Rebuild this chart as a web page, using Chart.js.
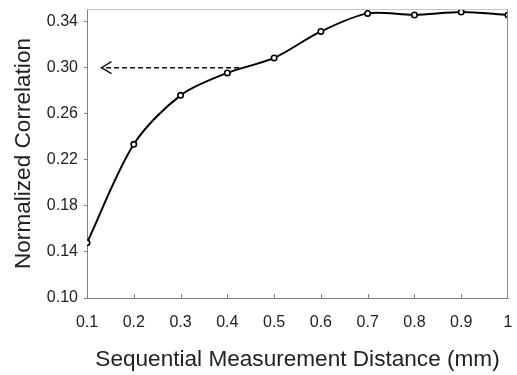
<!DOCTYPE html>
<html>
<head>
<meta charset="utf-8">
<script src="https://cdn.jsdelivr.net/npm/chart.js@4.4.1/dist/chart.umd.min.js"></script>
<style>
  html, body { margin: 0; padding: 0; background: #fff; }
  #wrap { width: 517px; height: 375px; }
</style>
</head>
<body>
<div id="wrap"><canvas id="myChart" width="517" height="375"></canvas></div>
<script>
const distances = [0.1, 0.2, 0.3, 0.4, 0.5, 0.6, 0.7, 0.8, 0.9, 1.0];
const correlation = [0.148, 0.2335, 0.276, 0.2955, 0.3085, 0.3315, 0.3472, 0.3458, 0.3484, 0.3458];

const xTicks = [0.1, 0.2, 0.3, 0.4, 0.5, 0.6, 0.7, 0.8, 0.9, 1.0];
const xTickLabels = ['0.1', '0.2', '0.3', '0.4', '0.5', '0.6', '0.7', '0.8', '0.9', '1'];
const yTicks = [0.10, 0.14, 0.18, 0.22, 0.26, 0.30, 0.34];
const yTickLabels = ['0.10', '0.14', '0.18', '0.22', '0.26', '0.30', '0.34'];

// dashed arrow pointing to the y axis at 0.30
const arrowX = [0.425, 0.131];
const arrowY = [0.30, 0.30];

const FONT = 'Liberation Sans, Arial, sans-serif';
const TEXT = '#222';

const frame = {
  id: 'frame',
  afterDatasetsDraw(chart) {
    const ctx = chart.ctx;
    const a = chart.chartArea;
    const x = chart.scales.x, y = chart.scales.y;
    ctx.save();
    // top and right border
    ctx.lineWidth = 1;
    ctx.strokeStyle = '#c4c4c4';
    ctx.beginPath();
    ctx.moveTo(a.left, a.top + 0.5);
    ctx.lineTo(a.right, a.top + 0.5);
    ctx.stroke();
    ctx.strokeStyle = '#8c8c8c';
    ctx.beginPath();
    ctx.moveTo(a.right - 0.5, a.top);
    ctx.lineTo(a.right - 0.5, a.bottom);
    ctx.stroke();
    // inside tick marks on the x axis
    ctx.strokeStyle = '#808080';
    xTicks.slice(1, -1).forEach(v => {
      const px = Math.round(x.getPixelForValue(v)) + 0.5;
      ctx.beginPath();
      ctx.moveTo(px, a.bottom);
      ctx.lineTo(px, a.bottom - 4);
      ctx.stroke();
    });
    // arrowhead
    const tx = x.getPixelForValue(arrowX[1]);
    const ty = y.getPixelForValue(arrowY[1]);
    ctx.strokeStyle = '#111';
    ctx.lineWidth = 1.4;
    ctx.beginPath();
    ctx.moveTo(tx + 10, ty - 6);
    ctx.lineTo(tx, ty);
    ctx.lineTo(tx + 10, ty + 6);
    ctx.stroke();
    ctx.restore();
  }
};

const ctx = document.getElementById('myChart').getContext('2d');
const myChart = new Chart(ctx, {
  type: 'line',
  data: {
    datasets: [{
      label: 'Normalized Correlation',
      data: distances.map((d, i) => ({ x: d, y: correlation[i] })),
      borderColor: '#000',
      borderWidth: 2,
      tension: 0.3,
      pointRadius: 2.7,
      pointBorderWidth: 1.6,
      pointBorderColor: '#000',
      pointBackgroundColor: '#fff',
      order: 1
    },
    {
      label: 'arrow',
      data: arrowX.map((d, i) => ({ x: d, y: arrowY[i] })),
      borderColor: '#111',
      borderWidth: 1.4,
      borderDash: [5, 3],
      pointRadius: 0,
      tension: 0,
      order: 2
    }]
  },
  options: {
    responsive: false,
    animation: false,
    layout: { padding: { top: 9, right: 9, left: 0, bottom: 0 } },
    plugins: {
      legend: { display: false },
      tooltip: { enabled: false }
    },
    scales: {
      x: {
        type: 'linear',
        min: 0.1,
        max: 1.0,
        afterFit(scale) {
          scale.height = 77;
          scale.paddingLeft = 0;
          scale.paddingRight = 0;
        },
        afterBuildTicks(scale) { scale.ticks = xTicks.map(v => ({ value: v })); },
        grid: { display: true, drawOnChartArea: false, drawTicks: false },
        border: { color: '#808080', width: 1 },
        ticks: {
          padding: 15,
          color: TEXT,
          font: { family: FONT, size: 16 },
          maxRotation: 0,
          callback: (v) => xTickLabels[xTicks.findIndex(t => Math.abs(t - v) < 1e-6)]
        },
        title: {
          display: true,
          text: 'Sequential Measurement Distance (mm)',
          color: TEXT,
          font: { family: FONT, size: 22.6 },
          padding: { top: 10, bottom: 2 }
        }
      },
      y: {
        min: 0.10,
        max: 0.351,
        afterFit(scale) {
          scale.width = 87;
          scale.paddingTop = 0;
          scale.paddingBottom = 0;
        },
        afterBuildTicks(scale) { scale.ticks = yTicks.map(v => ({ value: v })); },
        grid: { display: true, drawOnChartArea: false, drawTicks: true, tickLength: 3, color: '#808080' },
        border: { color: '#808080', width: 1 },
        ticks: {
          padding: 6,
          color: TEXT,
          font: { family: FONT, size: 16 },
          callback: (v) => yTickLabels[yTicks.findIndex(t => Math.abs(t - v) < 1e-6)]
        },
        title: {
          display: true,
          text: 'Normalized Correlation',
          color: TEXT,
          font: { family: FONT, size: 22.6 },
          padding: { top: 10, bottom: 4 }
        }
      }
    }
  },
  plugins: [frame]
});
</script>
</body>
</html>
